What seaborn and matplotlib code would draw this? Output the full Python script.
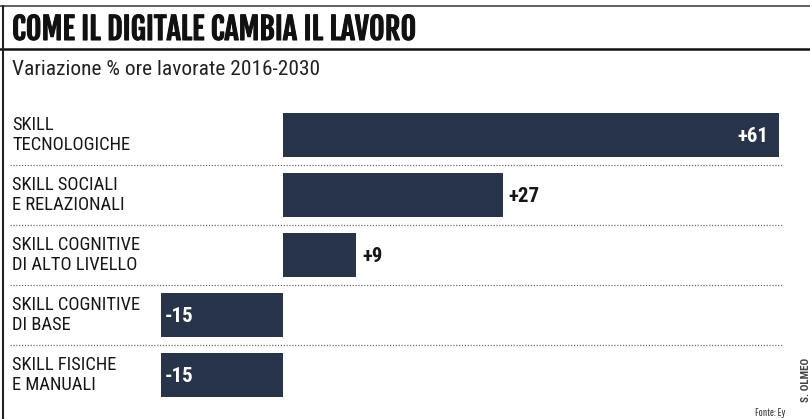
import matplotlib
matplotlib.use("Agg")
import matplotlib.pyplot as plt
import matplotlib.transforms as mtransforms
import matplotlib.patheffects as pe
import seaborn as sns
import pandas as pd
from matplotlib.lines import Line2D

sns.set_theme(style="white")
plt.rcParams["font.family"] = ["Roboto Condensed", "DejaVu Sans"]

# Data
line1 = ["SKILL", "SKILL SOCIALI", "SKILL COGNITIVE", "SKILL COGNITIVE", "SKILL FISICHE"]
line2 = ["TECNOLOGICHE", "E RELAZIONALI", "DI ALTO LIVELLO", "DI BASE", "E MANUALI"]
values = [61, 27, 9, -15, -15]
value_labels = ["+61", "+27", "+9", "-15", "-15"]

title = "COME IL DIGITALE CAMBIA IL LAVORO"
subtitle = "Variazione % ore lavorate 2016-2030"
source = "Fonte: Ey"
credit = "S. OLMEO"

bar_color = "#28344a"
text_color = "#161616"

categories = [f"{a}\n{b}" for a, b in zip(line1, line2)]
df = pd.DataFrame({"cat": categories, "val": values})

W, H = 810, 419
fig = plt.figure(figsize=(W / 100, H / 100), dpi=100)
fig.patch.set_facecolor("white")


def fx(px):
    return px / W


def fy(py):
    return 1 - py / H


# Bar panel: rows are 60 px tall, 1 unit = 8.13 px, zero at x = 283 px
ax = fig.add_axes([fx(10), fy(405), fx(790) - fx(10), fy(105) - fy(405)])
sns.barplot(data=df, x="val", y="cat", orient="h", color=bar_color,
            width=0.72, saturation=1, ax=ax, edgecolor="none")
ax.set_xlim(-33.58, 62.36)
ax.set_ylim(4.5, -0.5)
ax.axis("off")

unit = 8.13
row_px = 60.0
tr_label = mtransforms.blended_transform_factory(fig.transFigure, ax.transData)

# dotted row separators
for i in range(len(categories) - 1):
    ax.plot([fx(10), fx(783)], [i + 0.5, i + 0.5], transform=tr_label,
            linestyle=(0, (1, 1.3)), color="#6e6e6e", linewidth=0.9)

# category labels, two lines each
for i, (a, b) in enumerate(zip(line1, line2)):
    ax.text(fx(12), i - 5.5 / row_px, a, transform=tr_label, ha="left",
            va="baseline", fontsize=13.3, color=text_color)
    ax.text(fx(12), i + 14.5 / row_px, b, transform=tr_label, ha="left",
            va="baseline", fontsize=13.3, color=text_color)

# value labels
for i, (v, lab) in enumerate(zip(values, value_labels)):
    y = i + 7.0 / row_px
    if v >= 40:
        ax.text(v - 11 / unit, y, lab, ha="right", va="baseline",
                fontsize=15, fontweight="bold", color="white")
    elif v > 0:
        ax.text(v + 6 / unit, y, lab, ha="left", va="baseline",
                fontsize=15, fontweight="bold", color=text_color)
    else:
        ax.text(v + 4 / unit, y, lab, ha="left", va="baseline",
                fontsize=15, fontweight="bold", color="white")

# frame lines
fig.add_artist(Line2D([0, 1], [fy(6), fy(6)], color="#444444", linewidth=1.2))
fig.add_artist(Line2D([0, 1], [fy(49), fy(49)], color="#111111", linewidth=1.8))
fig.add_artist(Line2D([fx(3), fx(3)], [fy(6), 0], color="#222222", linewidth=1.5))

# titles
fig.text(fx(12), fy(40), title, ha="left", va="baseline", fontsize=21.8,
         color="#111111", family=["Fjalla One", "Roboto Condensed"],
         path_effects=[pe.withStroke(linewidth=0.8, foreground="#111111")])
fig.text(fx(12), fy(75), subtitle, ha="left", va="baseline", fontsize=15.4,
         color="#222222")

# source and credit
fig.text(fx(770), fy(416), source, ha="center", va="baseline", fontsize=8,
         color="#333333", family=["Pathway Gothic One", "Roboto Condensed"])
fig.text(fx(806), fy(380), credit, ha="center", va="center", fontsize=8,
         rotation=90, color="#444444", fontweight="bold",
         family=["Roboto Condensed"])

fig.savefig("out.png", dpi=100, facecolor="white")
